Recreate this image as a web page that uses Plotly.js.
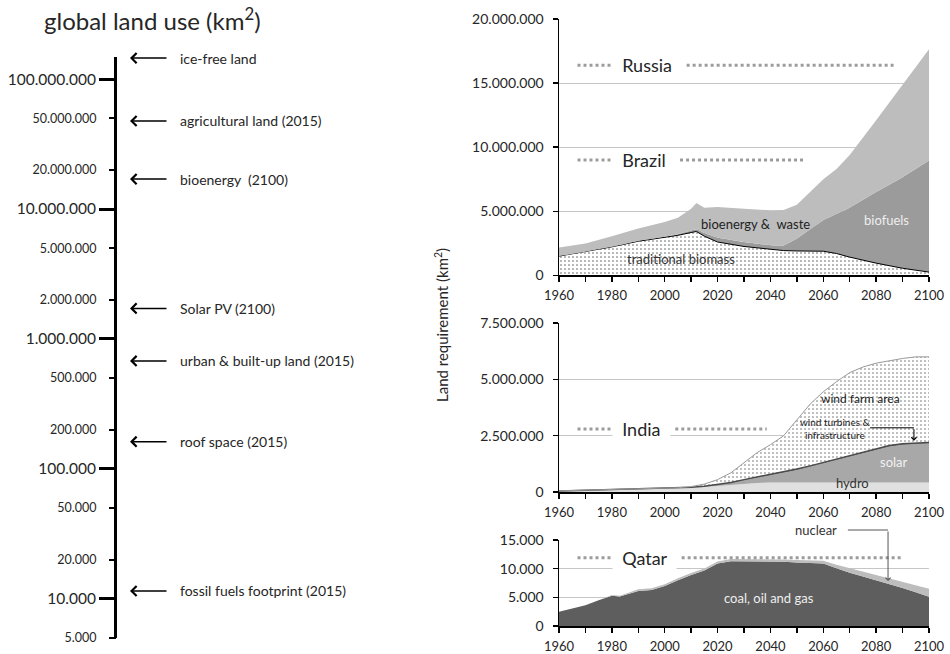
<!DOCTYPE html>
<html><head><meta charset="utf-8">
<script src="https://cdn.plot.ly/plotly-3.0.1.min.js"></script>
<style>html,body{margin:0;padding:0;background:#fff}#chart{width:950px;height:654px}</style>
</head><body><div id="chart"></div>
<script>
// ---------- LEFT PANEL: global land use (km2), log scale ----------
const landLabels = ['ice-free land','agricultural land (2015)','bioenergy  (2100)','Solar PV (2100)','urban & built-up land (2015)','roof space (2015)','fossil fuels footprint (2015)'];
const landValues = [145000000, 47600000, 17000000, 1720000, 678000, 162000, 11500];
const majorTicks = [10000, 100000, 1000000, 10000000, 100000000];
const minorTicks = [5000, 20000, 50000, 200000, 500000, 2000000, 5000000, 20000000, 50000000];

// ---------- TOP RIGHT: bioenergy ----------
const bioYears      = [1960,1970,1980,1990,2000,2005,2010,2012,2015,2020,2030,2040,2045,2050,2055,2060,2065,2070,2080,2090,2100];
const tradBiomass   = [1500000,1840000,2220000,2660000,2950000,3120000,3340000,3420000,3050000,2600000,2250000,2000000,1930000,1900000,1900000,1880000,1700000,1420000,950000,550000,250000];
const biofuels      = [0,0,0,20000,60000,90000,150000,180000,250000,350000,350000,350000,400000,970000,1700000,2420000,3100000,3860000,5550000,7110000,8710000];
const bioWaste      = [670000,640000,830000,970000,1160000,1290000,1710000,2040000,1980000,2380000,2600000,2720000,2770000,2630000,2900000,3200000,3500000,4120000,5600000,7240000,8680000];

// ---------- MIDDLE RIGHT: wind / solar / hydro ----------
const renYears      = [1960,1970,1980,1990,2000,2005,2010,2015,2020,2025,2030,2035,2040,2045,2050,2055,2060,2065,2070,2075,2080,2085,2090,2095,2100];
const hydro         = [40000,70000,100000,130000,160000,180000,200000,230000,270000,320000,370000,400000,420000,420000,420000,420000,420000,420000,420000,420000,420000,420000,420000,420000,420000];
const solar         = [0,0,0,0,0,0,10000,20000,40000,80000,150000,230000,330000,440000,560000,700000,850000,1000000,1150000,1320000,1480000,1600000,1680000,1720000,1740000];
const windTurbines  = [0,0,0,0,0,0,5000,10000,20000,20000,30000,30000,30000,30000,40000,40000,40000,40000,40000,40000,40000,40000,40000,40000,40000];
const windFarm      = [10000,10000,10000,10000,10000,10000,25000,90000,220000,430000,750000,1090000,1320000,1610000,2180000,2740000,3140000,3440000,3690000,3770000,3780000,3770000,3790000,3820000,3800000];

// ---------- BOTTOM RIGHT: fossil / nuclear ----------
const fosYears      = [1960,1965,1970,1975,1980,1983,1985,1990,1995,2000,2005,2008,2010,2015,2020,2025,2030,2035,2040,2045,2050,2055,2060,2065,2070,2075,2080,2085,2090,2095,2100];
const coalOilGas    = [2500,3000,3600,4500,5300,5150,5400,6100,6300,7000,8000,8600,8900,9700,10900,11300,11300,11300,11200,11200,11100,11000,10900,10100,9300,8650,8000,7350,6650,5900,5100];
const nuclear       = [0,0,0,0,100,150,200,300,300,300,350,350,350,350,350,400,400,400,400,400,400,400,500,600,800,900,1000,1000,1150,1300,1400];

// ---------- Country reference areas ----------
const countries     = ['Russia','Brazil','India','Qatar'];
const countryArea   = [16400000, 9000000, 2800000, 11900];

// ---------- Axis ticks ----------
const yearTicks     = [1960,1970,1980,1990,2000,2010,2020,2030,2040,2050,2060,2070,2080,2090,2100];
const yearLabels    = ['1960','','1980','','2000','','2020','','2040','','2060','','2080','','2100'];
const bioTicks      = [0,5000000,10000000,15000000,20000000];
const renTicks      = [0,2500000,5000000,7500000];
const fosTicks      = [0,5000,10000,15000];

// ---------- layout helpers ----------
const W = 950, H = 654;
const PX = v => v / W;
const PY = v => 1 - v / H;
const FONT = 'Lato, "Open Sans", sans-serif';
const TXT = '#262626';

const traces = [];
traces.push({type:'scatter', mode:'markers', x:landValues.map(()=>0), y:landValues, xaxis:'x', yaxis:'y', marker:{opacity:0}, hoverinfo:'skip', showlegend:false});
traces.push({type:'scatter', mode:'markers', x:minorTicks.map(()=>0), y:minorTicks, xaxis:'x', yaxis:'y5', marker:{opacity:0}, hoverinfo:'skip', showlegend:false});

const dots = {shape:'.', fgcolor:'#555555', bgcolor:'#ffffff', size:4, solidity:0.12};
traces.push({type:'scatter', mode:'lines', name:'traditional biomass', x:bioYears, y:tradBiomass, stackgroup:'bio', xaxis:'x2', yaxis:'y2', line:{color:'#000', width:1}, fillcolor:'#fff', fillpattern:dots, hoverinfo:'skip'});
traces.push({type:'scatter', mode:'lines', name:'biofuels', x:bioYears, y:biofuels, stackgroup:'bio', xaxis:'x2', yaxis:'y2', line:{width:0, color:'#9b9b9b', shape:'spline', smoothing:0.4}, fillcolor:'#9b9b9b', hoverinfo:'skip'});
traces.push({type:'scatter', mode:'lines', name:'bioenergy & waste', x:bioYears, y:bioWaste, stackgroup:'bio', xaxis:'x2', yaxis:'y2', line:{width:0, color:'#bdbdbd'}, fillcolor:'#bdbdbd', hoverinfo:'skip'});
traces.push({type:'scatter', mode:'lines', name:'hydro', x:renYears, y:hydro, stackgroup:'ren', xaxis:'x3', yaxis:'y3', line:{width:0, color:'#e0e0e0'}, fillcolor:'#e0e0e0', hoverinfo:'skip'});
traces.push({type:'scatter', mode:'lines', name:'solar', x:renYears, y:solar, stackgroup:'ren', xaxis:'x3', yaxis:'y3', line:{width:0, color:'#a8a8a8'}, fillcolor:'#a8a8a8', hoverinfo:'skip'});
traces.push({type:'scatter', mode:'lines', name:'wind turbines', x:renYears, y:windTurbines, stackgroup:'ren', xaxis:'x3', yaxis:'y3', line:{width:1.5, color:'#4a4a4a'}, fillcolor:'#6a6a6a', hoverinfo:'skip'});
traces.push({type:'scatter', mode:'lines', name:'wind farm area', x:renYears, y:windFarm, stackgroup:'ren', xaxis:'x3', yaxis:'y3', line:{width:1, color:'#9a9a9a'}, fillcolor:'#fff', fillpattern:{shape:'.', fgcolor:'#666666', bgcolor:'#ffffff', size:4, solidity:0.12}, hoverinfo:'skip'});
traces.push({type:'scatter', mode:'lines', name:'coal, oil and gas', x:fosYears, y:coalOilGas, stackgroup:'fos', xaxis:'x4', yaxis:'y4', line:{width:0, color:'#5e5e5e'}, fillcolor:'#5e5e5e', hoverinfo:'skip'});
traces.push({type:'scatter', mode:'lines', name:'nuclear', x:fosYears, y:nuclear, stackgroup:'fos', xaxis:'x4', yaxis:'y4', line:{width:0, color:'#bdbdbd'}, fillcolor:'#bdbdbd', hoverinfo:'skip'});

function xAx(anchor){
  return {domain:[PX(559), PX(929)], range:[1960,2100], anchor:anchor, tickvals:yearTicks, ticktext:yearLabels,
    showline:true, linecolor:'#000', linewidth:1.5, ticks:'outside', ticklen:5, tickwidth:1.5, tickcolor:'#000',
    showgrid:false, zeroline:false, tickfont:{family:FONT, size:13, color:TXT}, ticklabelstandoff:3, fixedrange:true};
}
function yAx(anchor, dom, rng, tv){
  return {domain:dom, range:rng, anchor:anchor, tickvals:tv, tickformat:',d',
    showline:true, linecolor:'#000', linewidth:1.5, ticks:'outside', ticklen:5, tickwidth:1.5, tickcolor:'#000',
    showgrid:true, gridcolor:'#c6c6c6', gridwidth:1, zeroline:false,
    tickfont:{family:FONT, size:14, color:TXT}, ticklabelstandoff:6, fixedrange:true};
}

const annotations = [];
const shapes = [];

annotations.push({xref:'paper', yref:'paper', x:PX(152), y:PY(19), text:'global land use (km<sup>2</sup>)', showarrow:false,
  font:{family:FONT, size:24, color:TXT}, xanchor:'center', yanchor:'middle'});
landLabels.forEach((lab, i) => {
  const ly = Math.log10(landValues[i]);
  annotations.push({xref:'x', yref:'y', x:13, y:ly, text:'', showarrow:true, ax:38, ay:0,
    arrowhead:4, arrowsize:1.3, arrowwidth:1.5, arrowcolor:'#000', standoff:0, startstandoff:0});
  annotations.push({xref:'x', yref:'y', x:61, y:ly, text:lab, showarrow:false, xanchor:'left', yanchor:'middle',
    font:{family:FONT, size:14, color:TXT}});
});

annotations.push({xref:'paper', yref:'paper', x:PX(441), y:PY(325), text:'Land requirement (km<sup>2</sup>)', textangle:-90,
  showarrow:false, font:{family:FONT, size:15, color:TXT}, xanchor:'center', yanchor:'middle'});

const cRefs = [['x2','y2'],['x2','y2'],['x3','y3'],['x4','y4']];
const cSecondEnd = [2086.6, 2052.4, 2038.6, 2090.3];
const cSecondStart = [2008.3, 2005.8, 2004.0, 2006.4];
countries.forEach((c, i) => {
  const [xr, yr] = cRefs[i];
  const v = countryArea[i];
  shapes.push({type:'line', xref:xr, yref:yr, x0:1967, x1:1980, y0:v, y1:v, line:{color:'#9c9c9c', width:3, dash:'dot'}});
  shapes.push({type:'line', xref:xr, yref:yr, x0:cSecondStart[i], x1:cSecondEnd[i], y0:v, y1:v, line:{color:'#9c9c9c', width:3, dash:'dot'}});
  annotations.push({xref:xr, yref:yr, x:1980.2, y:v, text:'\u00a0\u00a0' + c + '\u00a0\u00a0', showarrow:false, xanchor:'left', yanchor:'middle',
    bgcolor:'#ffffff', borderpad:0, font:{family:FONT, size:18, color:TXT}});
});

function lab(xr, yr, x, y, t, size, color){
  annotations.push({xref:xr, yref:yr, x:x, y:y, text:t, showarrow:false, xanchor:'center', yanchor:'middle',
    font:{family:FONT, size:size, color:color}});
}
lab('x2','y2', 2034.5, 3990000, 'bioenergy &amp;  waste', 13, '#222');
lab('x2','y2', 2084.1, 4300000, 'biofuels', 13, '#eeeeee');
lab('x2','y2', 2006.0, 1270000, 'traditional biomass', 13, '#333');
lab('x3','y3', 2074.2, 4170000, 'wind farm area', 12, '#222');
lab('x3','y3', 2064.8, 2810000, 'wind turbines &amp;<br>infrastructure', 10, '#222');
lab('x3','y3', 2086.7, 1340000, 'solar', 13, '#f2f2f2');
lab('x3','y3', 2071.2, 400000, 'hydro', 13, '#333');
lab('x4','y4', 2039.5, 4940, 'coal, oil and gas', 13, '#eeeeee');
annotations.push({xref:'x4', yref:'paper', x:2057.2, y:PY(530), text:'nuclear', showarrow:false, xanchor:'center', yanchor:'middle',
  font:{family:FONT, size:13, color:'#333'}});

shapes.push({type:'line', xref:'x3', yref:'y3', x0:2077.7, x1:2094.3, y0:2850000, y1:2850000, line:{color:'#000', width:1}});
annotations.push({xref:'x3', yref:'y3', x:2094.3, y:2280000, text:'', showarrow:true, ax:0, ay:-13,
  arrowhead:4, arrowsize:1, arrowwidth:1, arrowcolor:'#000', standoff:0});
shapes.push({type:'line', xref:'x4', yref:'paper', x0:2069.3, x1:2084.5, y0:PY(530), y1:PY(530), line:{color:'#555', width:1}});
annotations.push({xref:'x4', yref:'y4', x:2084.5, y:7850, text:'', showarrow:true, ax:0, ay:-51,
  arrowhead:4, arrowsize:1, arrowwidth:1, arrowcolor:'#555', standoff:0});

const layout = {
  width:W, height:H, margin:{l:0, r:0, t:0, b:0}, paper_bgcolor:'#fff', plot_bgcolor:'rgba(0,0,0,0)',
  showlegend:false, separators:',.', font:{family:FONT, color:TXT},
  xaxis:{domain:[PX(117), PX(440)], range:[0,323], visible:false, fixedrange:true, anchor:'y'},
  yaxis:{domain:[PY(638), PY(57)], type:'log', range:[Math.log10(5000), 8.17], anchor:'x', tickvals:majorTicks, tickformat:',d',
    showline:true, linecolor:'#000', linewidth:3, ticks:'outside', ticklen:15, tickwidth:3, tickcolor:'#000',
    showgrid:false, zeroline:false, tickfont:{family:FONT, size:15.5, color:TXT}, ticklabelstandoff:0, fixedrange:true},
  yaxis5:{overlaying:'y', anchor:'x', side:'left', type:'log', range:[Math.log10(5000), 8.17], tickvals:minorTicks, tickformat:',d',
    showline:false, ticks:'outside', ticklen:7, tickwidth:2, tickcolor:'#000', showgrid:false, zeroline:false,
    tickfont:{family:FONT, size:12.5, color:TXT}, ticklabelstandoff:10, fixedrange:true},
  xaxis2:xAx('y2'),
  yaxis2:yAx('x2', [PY(275.3), PY(19)], [0,20010000], bioTicks),
  xaxis3:xAx('y3'),
  yaxis3:yAx('x3', [PY(492), PY(323)], [0,7504000], renTicks),
  xaxis4:xAx('y4'),
  yaxis4:yAx('x4', [PY(626), PY(540)], [0,15010], fosTicks),
  annotations:annotations,
  shapes:shapes
};

Plotly.newPlot('chart', traces, layout, {staticPlot:true, displayModeBar:false});
</script></body></html>
